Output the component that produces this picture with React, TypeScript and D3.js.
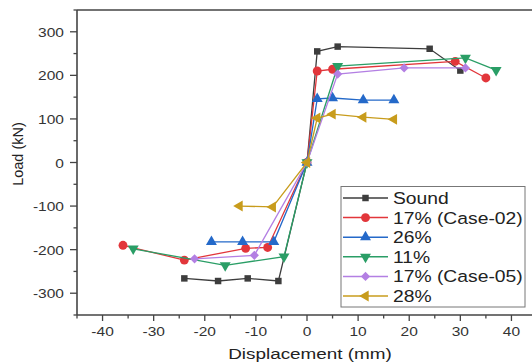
import React from "react";
import * as d3 from "d3";

// displacement (mm) / load (kN) pairs
const soundX = [-24, -17.4, -11.6, -5.6, 0, 2, 6, 24, 30];
const soundY = [-266, -272, -266, -272, 0, 255, 266, 261, 211];
const case02X = [-36, -24, -12, -7.7, 0, 2, 5, 29, 35];
const case02Y = [-190, -224, -197, -195, 0, 210, 214, 232, 194];
const p26X = [-18.7, -12.6, -6.5, 0, 2, 5, 11, 17];
const p26Y = [-182, -182, -182, 0, 146, 148, 143, 143];
const p11X = [-34, -16, -4.5, 0, 6, 31, 37];
const p11Y = [-198, -236, -216, 0, 221, 240, 212];
const case05X = [-22, -10.3, 0, 6, 19, 31];
const case05Y = [-221, -213, 0, 203, 217, 217];
const p28X = [-13.2, -6.7, 0, 2, 5, 11, 17];
const p28Y = [-100, -102, 0, 102, 111, 104, 99];

const seriesNames = ["Sound", "17% (Case-02)", "26%", "11%", "17% (Case-05)", "28%"];
const seriesColors = ["#3d3d3d", "#e2363b", "#2469c9", "#2a9e66", "#b37fe3", "#c89c1c"];
const seriesShapes = ["square", "circle", "up", "down", "diamond", "left"];
const seriesXs = [soundX, case02X, p26X, p11X, case05X, p28X];
const seriesYs = [soundY, case02Y, p26Y, p11Y, case05Y, p28Y];

const xTicks = [-40, -30, -20, -10, 0, 10, 20, 30, 40];
const yTicks = [-300, -200, -100, 0, 100, 200, 300];

const W = 532, H = 364;
const font = "'Liberation Sans', Arial, sans-serif";

function marker(shape: string, x: number, y: number, color: string, key: string) {
  let sym: d3.SymbolType = d3.symbolSquare;
  let size = 42;
  let rot = 0;
  if (shape === "circle") { sym = d3.symbolCircle; size = 62; }
  if (shape === "up") { sym = d3.symbolTriangle; size = 52; }
  if (shape === "down") { sym = d3.symbolTriangle; size = 52; rot = 180; }
  if (shape === "left") { sym = d3.symbolTriangle; size = 52; rot = -90; }
  if (shape === "diamond") { sym = d3.symbolSquare; size = 42; rot = 45; }
  const d = d3.symbol().type(sym).size(size)()!;
  return <path key={key} d={d} fill={color} transform={`translate(${x},${y}) rotate(${rot})`} />;
}

export default function App() {
  const x = d3.scaleLinear().domain([-45, 45]).range([77, 537]);
  const y = d3.scaleLinear().domain([-350, 350]).range([315, 10]);
  const line = d3.line<[number, number]>().x(d => x(d[0])).y(d => y(d[1]));
  const axisColor = "#444";

  const xMinor = d3.range(-45, 46, 5).filter(v => v % 10 !== 0);
  const yMinor = d3.range(-350, 351, 50).filter(v => v % 100 !== 0);

  return (
    <svg width={W} height={H} style={{ position: "absolute", left: 0, top: 0, background: "#fff" }} fontFamily={font}>
      {/* series */}
      {seriesNames.map((name, i) => {
        const pts = seriesXs[i].map((v, j) => [v, seriesYs[i][j]] as [number, number]);
        return (
          <g key={name}>
            <path d={line(pts)!} fill="none" stroke={seriesColors[i]} strokeWidth={1.3} />
            {pts.map((p, j) => marker(seriesShapes[i], x(p[0]), y(p[1]), seriesColors[i], name + j))}
          </g>
        );
      })}

      {/* frame + axes */}
      <line x1={77} x2={537} y1={10} y2={10} stroke={axisColor} strokeWidth={1.6} />
      <line x1={77} x2={537} y1={315} y2={315} stroke={axisColor} strokeWidth={1.6} />
      <line x1={77} x2={77} y1={10} y2={315} stroke={axisColor} strokeWidth={1.6} />

      {xTicks.map(t => (
        <g key={"xt" + t}>
          <line x1={x(t)} x2={x(t)} y1={315} y2={321} stroke={axisColor} strokeWidth={1.3} />
          <text transform={`translate(${x(t)},336) scale(1.15,1)`} textAnchor="middle" fontSize={13.5} fill="#333">{t}</text>
        </g>
      ))}
      {xMinor.map(t => (
        <line key={"xm" + t} x1={x(t)} x2={x(t)} y1={315} y2={318.5} stroke={axisColor} strokeWidth={1.3} />
      ))}
      {yTicks.map(t => (
        <g key={"yt" + t}>
          <line x1={70} x2={77} y1={y(t)} y2={y(t)} stroke={axisColor} strokeWidth={1.3} />
          <text transform={`translate(64,${y(t) + 5}) scale(1.15,1)`} textAnchor="end" fontSize={13.5} fill="#333">{t}</text>
        </g>
      ))}
      {yMinor.map(t => (
        <line key={"ym" + t} x1={73.5} x2={77} y1={y(t)} y2={y(t)} stroke={axisColor} strokeWidth={1.3} />
      ))}

      <text transform={`translate(310,359) scale(1.22,1)`} textAnchor="middle" fontSize={15.5} fill="#222">Displacement (mm)</text>
      <text transform={`translate(23,154) rotate(-90)`} textAnchor="middle" fontSize={14.5} fill="#222">Load (kN)</text>

      {/* legend */}
      <rect x={341} y={186.5} width={184} height={120.5} fill="#fff" stroke="#777" strokeWidth={1} />
      {seriesNames.map((name, i) => {
        const ly = 198 + i * 19.6;
        return (
          <g key={"lg" + name}>
            <line x1={343} x2={388} y1={ly} y2={ly} stroke={seriesColors[i]} strokeWidth={1.5} />
            {marker(seriesShapes[i], 365.5, ly, seriesColors[i], "lm" + i)}
            <text transform={`translate(393,${ly + 6}) scale(1.17,1)`} fontSize={16.5} fill="#222">{name}</text>
          </g>
        );
      })}
    </svg>
  );
}
